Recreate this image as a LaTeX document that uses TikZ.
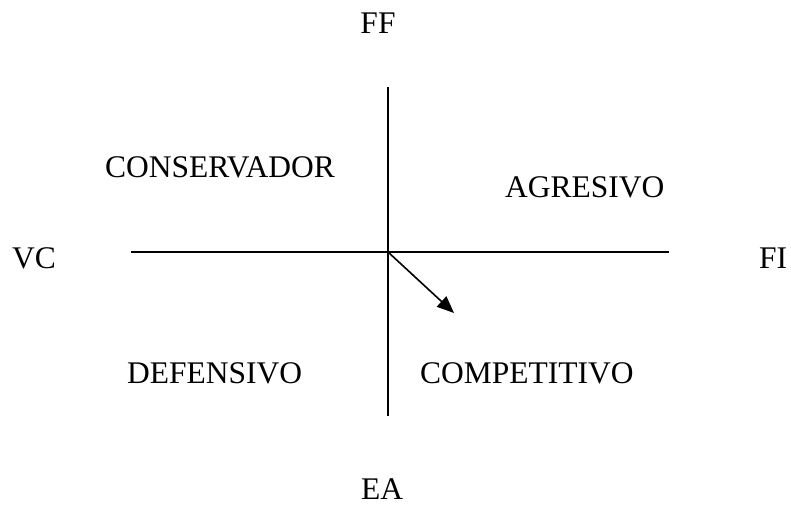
\documentclass[tikz,border=0pt]{standalone}
\usepackage{fontspec}
\setmainfont{Liberation Serif}
\usetikzlibrary{arrows.meta}
\begin{document}
\begin{tikzpicture}[x=1pt,y=-1pt,
  lbl/.style={inner sep=0pt,font=\fontsize{31.5}{37}\selectfont},
  axis/.style={line width=1.6pt},
  vec/.style={line width=1.6pt,-{Triangle[length=17pt,width=14pt]}}]
\useasboundingbox (0,0) rectangle (791,506);
\coordinate (L) at (131,252);
\coordinate (R) at (669,252);
\coordinate (T) at (388,87);
\coordinate (B) at (388,416);
\coordinate (O) at (388,252);
\coordinate (P) at (454,313);
\draw[axis] (L) -- (R);
\draw[axis] (T) -- (B);
\draw[vec] (O) -- (P);
\node[lbl,anchor=base] (ff) at (378,33) {FF};
\node[lbl,anchor=base] (ea) at (382,499) {EA};
\node[lbl,anchor=base west] (vc) at (12,268) {VC};
\node[lbl,anchor=base west] (fi) at (759,268) {FI};
\node[lbl,anchor=base west] (cons) at (105,177) {CONSERVADOR};
\node[lbl,anchor=base west] (agr) at (505,197) {AGRESIVO};
\node[lbl,anchor=base west] (def) at (127,383) {DEFENSIVO};
\node[lbl,anchor=base west] (comp) at (420,383) {COMPETITIVO};
\end{tikzpicture}
\end{document}
